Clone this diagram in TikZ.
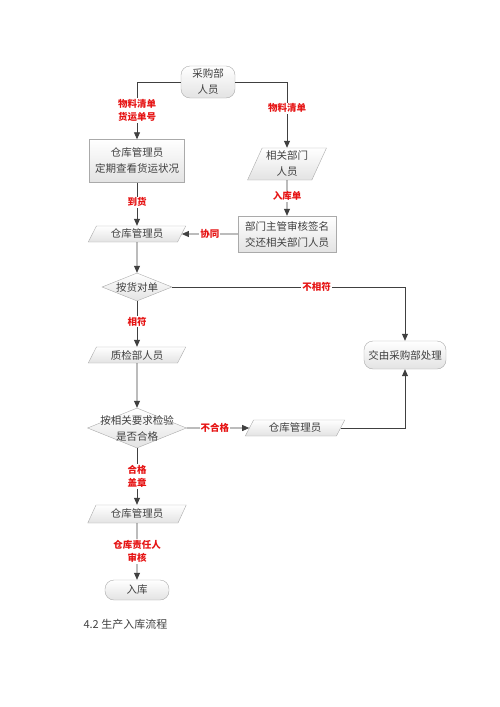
\documentclass[tikz,border=0pt]{standalone}
\usepackage{fontspec}
\setmainfont{Noto Sans CJK SC}
\usetikzlibrary{arrows.meta,shapes.geometric}
\definecolor{linegray}{RGB}{64,64,64}
\definecolor{boxgray}{RGB}{170,170,170}
\definecolor{lblred}{RGB}{230,20,20}

\begin{document}
\begin{tikzpicture}[x=1pt,y=-1pt,
    every node/.style={font=\fontsize{10.5}{16}\selectfont, text=black!75},
    shade box/.style={draw=boxgray, top color=white, bottom color=gray!22},
    procbox/.style={shade box, rectangle, align=center, inner sep=1pt},
    iobox/.style={shade box, trapezium, trapezium left angle=65, trapezium right angle=115,
        trapezium stretches=true, align=center, inner sep=1pt},
    termbox/.style={shade box, rectangle, rounded corners=9pt, align=center, inner sep=1pt},
    choice/.style={shade box, diamond, shape aspect=2.5, align=center, inner sep=0pt},
    arr/.style={draw=linegray, line width=0.8pt, -{Triangle[length=7pt,width=6pt]}},
    lbl/.style={fill=white, text=lblred, font=\fontsize{9.5}{13.5}\selectfont\bfseries,
        align=center, inner sep=1pt}]
    \useasboundingbox (0,0) rectangle (500,707);

    % upper part
    \node[termbox, minimum width=54, minimum height=32] (start) at (208,82) {采购部\\人员};
    \node[procbox, minimum width=95, minimum height=43] (check) at (137,161) {仓库管理员\\定期查看货运状况};
    \node[iobox, minimum width=79, minimum height=32] (dept) at (287,164) {相关部门\\人员};
    \node[procbox, minimum width=98, minimum height=36] (sign) at (287,234) {部门主管审核签名\\交还相关部门人员};
    \node[iobox, minimum width=98, minimum height=16] (keeper1) at (137,234) {仓库管理员};

    % checking
    \node[choice, minimum width=70, minimum height=28] (match) at (137,287) {按货对单};
    \node[termbox, minimum width=82, minimum height=28] (back) at (405,355) {交由采购部处理};
    \node[iobox, minimum width=98, minimum height=16] (qc) at (137,355) {质检部人员};
    \node[choice, minimum width=99, minimum height=40, inner xsep=-14pt, inner ysep=-8pt] (pass) at (137,428) {按相关要求检验\\是否合格};
    \node[iobox, minimum width=100, minimum height=16] (keeper2) at (295,428) {仓库管理员};

    % lower part
    \node[iobox, minimum width=99, minimum height=18] (keeper3) at (137,514) {仓库管理员};
    \node[termbox, minimum width=64, minimum height=20] (store) at (137,590) {入库};

    % connectors
    \draw[arr] (start.west) -| node[lbl, pos=0.75] {物料清单\\货运单号} (check.north);
    \draw[arr] (start.east) -| node[lbl, pos=0.7] {物料清单} (dept.north);
    \draw[arr] (dept) -- node[lbl, pos=0.45] {入库单} (sign);
    \draw[arr] (check) -- node[lbl, pos=0.45] {到货} (keeper1);
    \draw[arr] (sign) -- node[lbl, pos=0.5] {协同} (keeper1);
    \draw[arr] (keeper1) -- (match);
    \draw[arr] (match.east) -| node[lbl, pos=0.31] {不相符} (back.north);
    \draw[arr] (match) -- node[lbl, pos=0.45] {相符} (qc);
    \draw[arr] (qc) -- (pass);
    \draw[arr] (pass) -- node[lbl, pos=0.45] {不合格} (keeper2);
    \draw[arr] (keeper2.east) -| (back.south);
    \draw[arr] (pass) -- node[lbl, pos=0.5] {合格\\盖章} (keeper3);
    \draw[arr] (keeper3) -- node[lbl, pos=0.5] {仓库责任人\\审核} (store);

    % caption
    \node[anchor=west, font=\fontsize{11}{13}\selectfont, text=black!75] (caption) at (80,624) {4.2 生产入库流程};
\end{tikzpicture}
\end{document}
